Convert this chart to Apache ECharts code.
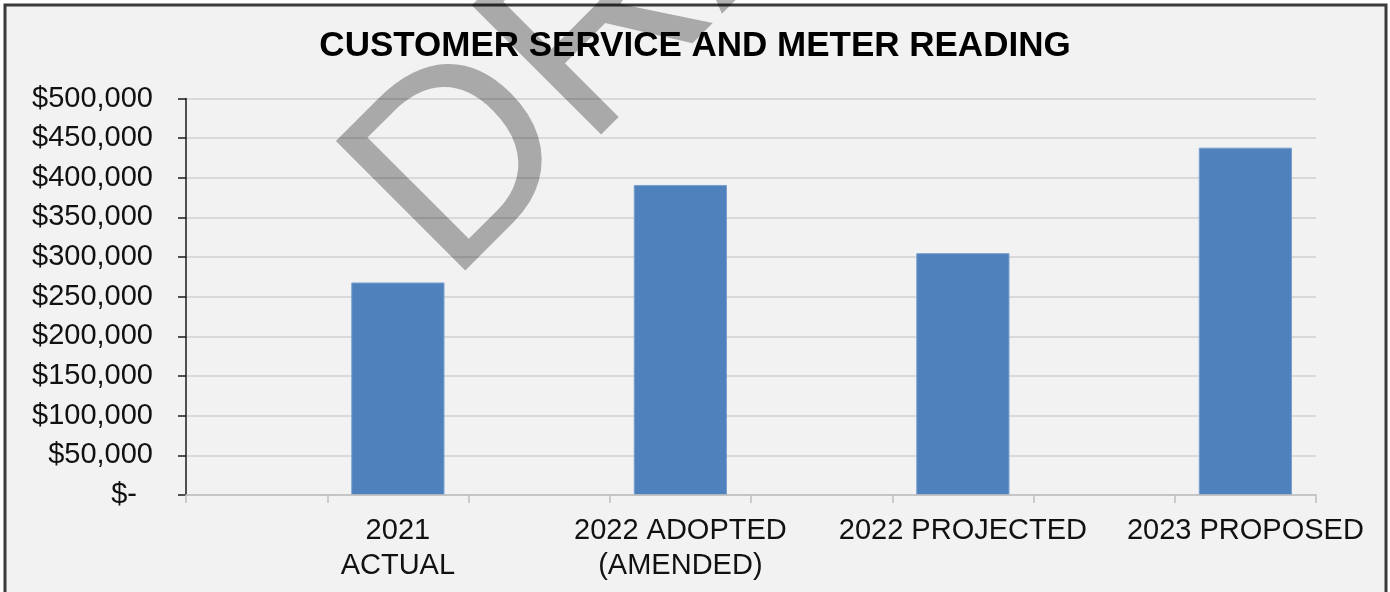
<!DOCTYPE html>
<html>
<head>
<meta charset="utf-8">
<script src="https://cdn.jsdelivr.net/npm/echarts@6/dist/echarts.min.js"></script>
<style>
  html, body { margin: 0; padding: 0; background: #ffffff; }
  #chart { width: 1390px; height: 592px; }
</style>
</head>
<body>
<div id="chart"></div>
<script>
// Category slots: the labelled budget columns sit in every second slot
const categories = ['', '2021\nACTUAL', '', '2022 ADOPTED\n(AMENDED)', '', '2022 PROJECTED', '', '2023 PROPOSED'];
const amounts = [null, 268000, null, 391000, null, 305000, null, 438000];
const yTicks = { min: 0, max: 500000, step: 50000 };
const titleText = 'CUSTOMER SERVICE AND METER READING';
const watermarkText = 'DRAFT';

const FONT = '"Liberation Sans", Arial, sans-serif';

function money(v) {
  if (v === 0) return '{z|$-}';
  return '$' + v.toLocaleString('en-US');
}

const chart = echarts.init(document.getElementById('chart'), null, { renderer: 'canvas' });

chart.setOption({
  backgroundColor: '#ffffff',
  animation: false,
  title: {
    text: titleText,
    left: 'center',
    top: 24,
    textStyle: { fontFamily: FONT, fontSize: 35, fontWeight: 'bold', color: '#000000' }
  },
  grid: { left: 186, right: 74, top: 98.5, bottom: 97, containLabel: false },
  xAxis: {
    type: 'category',
    data: categories,
    boundaryGap: true,
    axisLine: { show: true, lineStyle: { color: '#bfbfbf', width: 1.5 } },
    axisTick: { show: true, interval: 0, length: 8, lineStyle: { color: '#bfbfbf', width: 1.5 } },
    axisLabel: {
      interval: 0, margin: 18, fontFamily: FONT, fontSize: 29, lineHeight: 35, color: '#111111'
    },
    splitLine: { show: false },
    z: 3
  },
  yAxis: {
    type: 'value',
    min: yTicks.min,
    max: yTicks.max,
    interval: yTicks.step,
    axisLine: { show: true, lineStyle: { color: '#1a1a1a', width: 1.5 } },
    axisTick: { show: true, length: 8, lineStyle: { color: '#1a1a1a', width: 1.5 } },
    axisLabel: {
      margin: 33, fontFamily: FONT, fontSize: 29, color: '#111111',
      formatter: money,
      rich: { z: { fontFamily: FONT, fontSize: 29, color: '#111111', padding: [0, 16, 0, 0] } }
    },
    splitLine: { show: true, lineStyle: { color: '#d9d9d9', width: 2 } }
  },
  series: [{
    type: 'bar',
    data: amounts,
    barWidth: '66%',
    itemStyle: { color: '#4f81bd', borderColor: '#79a0cf', borderWidth: 1 },
    z: 2
  }],
  graphic: [
    {
      type: 'rect',
      z: -10,
      silent: true,
      shape: { x: 5, y: 5, width: 1381, height: 600 },
      style: { fill: '#f2f2f2', stroke: '#3a3a3a', lineWidth: 3 }
    },
    {
      type: 'text',
      z: 100,
      silent: true,
      x: 398,
      y: 234,
      rotation: Math.PI / 4,
      style: {
        text: watermarkText,
        fontFamily: FONT,
        fontSize: 266,
        fill: 'rgba(0,0,0,0.3)',
        align: 'left',
        verticalAlign: 'middle'
      }
    }
  ]
});
</script>
</body>
</html>
